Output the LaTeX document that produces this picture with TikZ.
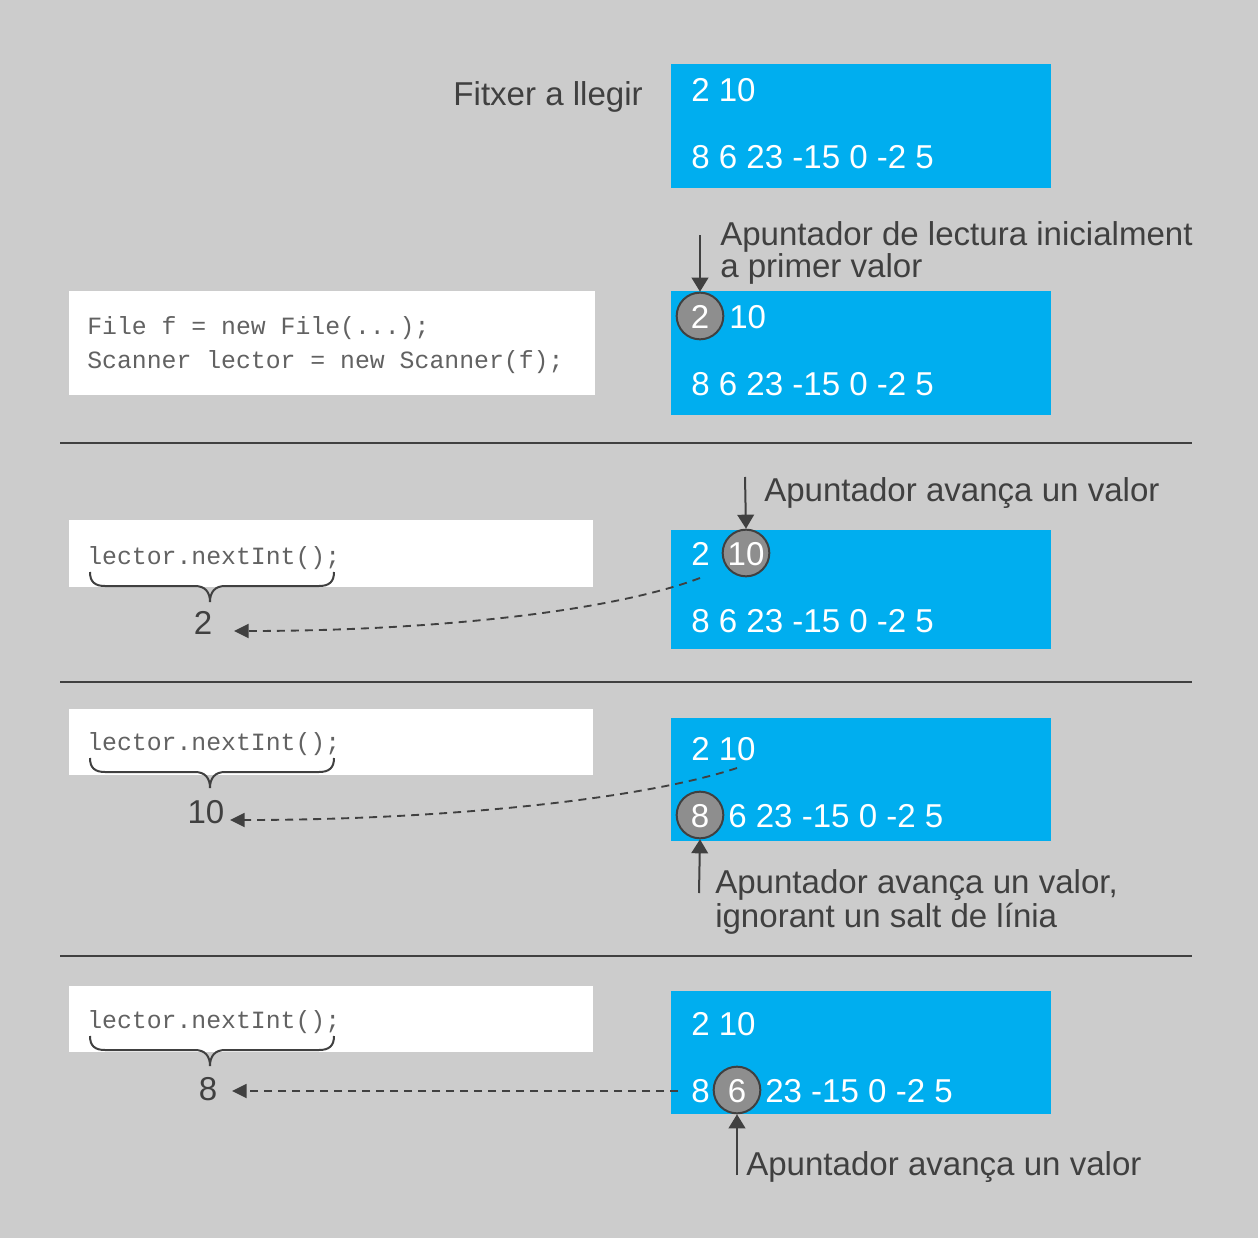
\documentclass[tikz,border=0pt]{standalone}
\usepackage{fontspec}
\setmainfont{Liberation Sans}
\setmonofont{Liberation Mono}
\usetikzlibrary{arrows.meta}
\definecolor{bgc}{HTML}{CCCCCC}
\definecolor{blu}{HTML}{00AEEF}
\definecolor{dk}{HTML}{404040}
\definecolor{codec}{HTML}{626262}
\definecolor{circf}{HTML}{8E8E8E}
\tikzset{
  filebox/.style={fill=blu, draw=none},
  codebox/.style={fill=white, draw=none},
  num/.style={text=white, inner sep=0pt, font=\fontsize{24.8}{30}\selectfont},
  lbl/.style={text=dk, inner sep=0pt, font=\fontsize{24.8}{25}\selectfont, align=left},
  code/.style={text=codec, inner sep=0pt, font=\ttfamily\fontsize{18.6}{25.5}\selectfont, align=left},
  circ/.style={circle, fill=circf, draw=dk, line width=1.5pt, minimum size=35pt, inner sep=0pt},
  ptr/.style={draw=dk, line width=1.5pt, -{Triangle[length=10.5pt,width=12.5pt]}},
  ret/.style={draw=dk, line width=1.4pt, dash pattern=on 6pt off 4.5pt, -{Triangle[length=11pt,width=10.5pt]}},
  sep/.style={draw=dk, line width=1.3pt},
  brace/.style={draw=dk, line width=1.5pt},
}
\begin{document}
\begin{tikzpicture}[x=0.75pt,y=-0.75pt]
\useasboundingbox (0,0) rectangle (1258,1238);
\fill[bgc] (0,0) rectangle (1258,1238);

% separators
\draw[sep] (60,443) -- (1192,443);
\draw[sep] (60,682) -- (1192,682);
\draw[sep] (60,956) -- (1192,956);

% ---------- row 1 ----------
\node[lbl, anchor=base east] (fitx) at (643,106) {Fitxer a llegir};
\path[filebox] (671,64) rectangle (1051,188);
\node[num, anchor=base west] (f1a) at (691,102) {2 10};
\node[num, anchor=base west] (f1b) at (691,168) {8 6 23 -15 0 -2 5};

% ---------- row 2 ----------
\path[codebox] (69,291) rectangle (595,395);
\node[code, anchor=base west] (c1) at (87,334) {File f = new File(...);};
\node[code, anchor=base west] (c2) at (87,368) {Scanner lector = new Scanner(f);};
\path[filebox] (671,291) rectangle (1051,415);
\node[circ] (k2) at (700,316) {};
\node[num, anchor=base] (f2a) at (700,328) {2};
\node[num, anchor=base west] (f2b) at (729,328) {10};
\node[num, anchor=base west] (f2c) at (691,395) {8 6 23 -15 0 -2 5};
\coordinate (p2) at (700,235);
\draw[ptr] (p2) -- (k2.north);
\node[lbl, anchor=base west] (l2a) at (720,245) {Apuntador de lectura inicialment};
\node[lbl, anchor=base west] (l2b) at (720,277) {a primer valor};

% ---------- row 3 ----------
\path[codebox] (69,520) rectangle (593,587);
\node[code, anchor=base west] (c3) at (87,564) {lector.nextInt();};
\draw[brace] (90,572) .. controls (90,582) and (95,586) .. (105,586) -- (195,586)
  .. controls (205,586) and (210,592) .. (210,602)
  .. controls (210,592) and (215,586) .. (225,586) -- (319,586)
  .. controls (329,586) and (334,582) .. (334,572);
\node[lbl, anchor=center] (r3) at (203,623) {2};
\path[filebox] (671,530) rectangle (1051,649);
\node[circ] (k3) at (746,553) {};
\node[num, anchor=base west] (f3a) at (691,565) {2};
\node[num, anchor=base] (f3b) at (746,565) {10};
\node[num, anchor=base west] (f3c) at (691,632) {8 6 23 -15 0 -2 5};
\coordinate (p3) at (745,477);
\draw[ptr] (p3) -- (k3.north);
\node[lbl, anchor=base west] (l3) at (764,501) {Apuntador avança un valor};
\coordinate (s3) at (700,578);
\coordinate (e3) at (234,631);
\draw[ret] (s3) .. controls (610,612) and (430,631) .. (e3);

% ---------- row 4 ----------
\path[codebox] (69,709) rectangle (593,775);
\node[code, anchor=base west] (c4) at (87,750) {lector.nextInt();};
\draw[brace] (90,758) .. controls (90,768) and (95,772) .. (105,772) -- (195,772)
  .. controls (205,772) and (210,778) .. (210,788)
  .. controls (210,778) and (215,772) .. (225,772) -- (319,772)
  .. controls (329,772) and (334,768) .. (334,758);
\node[lbl, anchor=center] (r4) at (206,812) {10};
\path[filebox] (671,718) rectangle (1051,841);
\node[num, anchor=base west] (f4a) at (691,760) {2 10};
\node[circ] (k4) at (700,815) {};
\node[num, anchor=base] (f4b) at (700,827) {8};
\node[num, anchor=base west] (f4c) at (728,827) {6 23 -15 0 -2 5};
\coordinate (p4) at (699,893);
\draw[ptr] (p4) -- (k4.south);
\node[lbl, anchor=base west] (l4a) at (715,893) {Apuntador avança un valor,};
\node[lbl, anchor=base west] (l4b) at (715,927) {ignorant un salt de línia};
\coordinate (s4) at (737,768);
\coordinate (e4) at (230,820);
\draw[ret] (s4) .. controls (640,800) and (440,820) .. (e4);

% ---------- row 5 ----------
\path[codebox] (69,986) rectangle (593,1052);
\node[code, anchor=base west] (c5) at (87,1028) {lector.nextInt();};
\draw[brace] (90,1036) .. controls (90,1046) and (95,1050) .. (105,1050) -- (195,1050)
  .. controls (205,1050) and (210,1056) .. (210,1066)
  .. controls (210,1056) and (215,1050) .. (225,1050) -- (319,1050)
  .. controls (329,1050) and (334,1046) .. (334,1036);
\node[lbl, anchor=center] (r5) at (208,1089) {8};
\path[filebox] (671,991) rectangle (1051,1114);
\node[num, anchor=base west] (f5a) at (691,1035) {2 10};
\node[circ] (k5) at (737,1090) {};
\node[num, anchor=base west] (f5b) at (691,1102) {8};
\node[num, anchor=base] (f5c) at (737,1102) {6};
\node[num, anchor=base west] (f5d) at (765,1102) {23 -15 0 -2 5};
\coordinate (p5) at (737,1175);
\draw[ptr] (p5) -- (k5.south);
\node[lbl, anchor=base west] (l5) at (746,1175) {Apuntador avança un valor};
\coordinate (s5) at (678,1091);
\coordinate (e5) at (232,1091);
\draw[ret] (s5) -- (e5);
\end{tikzpicture}
\end{document}
